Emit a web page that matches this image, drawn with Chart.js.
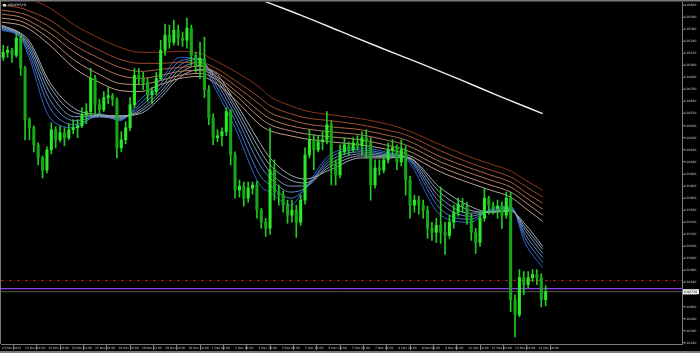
<!DOCTYPE html>
<html>
<head>
<meta charset="utf-8">
<script src="https://cdn.jsdelivr.net/npm/chart.js@4.4.1/dist/chart.umd.min.js"></script>
<style>
html,body{margin:0;padding:0;background:#000;}
canvas{display:block;background:#000;}
</style>
</head>
<body>
<canvas id="c" width="700" height="353"></canvas>
<script>
// ---- Data (USDCHF, H1, grouped 3 bars per candle) ----
const symbolTitle = 'USDCHF,H1';
const xTickIdx = [0,16,32,48,64,80,96,112,128,144,160,176,192,208,224,240,256,272,288,304,320,336,352,368];
const xLabels = ['23 Nov 2022','23 Nov 18:00','24 Nov 10:00','25 Nov 02:00','25 Nov 18:00','28 Nov 10:00','29 Nov 02:00','29 Nov 18:00','30 Nov 10:00','1 Dec 02:00','1 Dec 18:00','2 Dec 10:00','5 Dec 02:00','5 Dec 18:00','6 Dec 10:00','7 Dec 02:00','7 Dec 18:00','8 Dec 10:00','9 Dec 02:00','9 Dec 18:00','12 Dec 10:00','13 Dec 02:00','13 Dec 18:00','14 Dec 10:00'];
const yTicks = [0.9224,0.9236,0.9248,0.9260,0.9272,0.9284,0.9296,0.9308,0.9320,0.9332,0.9344,0.9356,0.9368,0.9380,0.9392,0.9404,0.9416,0.9428,0.9440,0.9452,0.9464,0.9476,0.9488,0.9500,0.9512,0.9524,0.9536,0.9548,0.9560];

const openP = [0.9508,0.9513,0.9515,0.9510,0.9527,0.9497,0.9446,0.9438,0.9421,0.9408,
 0.9396,0.9416,0.9436,0.9426,0.9433,0.9428,0.9436,0.9438,0.9440,0.9451,
 0.9454,0.9487,0.9461,0.9456,0.9468,0.9470,0.9466,0.9418,0.9426,0.9438,
 0.9461,0.9490,0.9487,0.9483,0.9471,0.9474,0.9487,0.9515,0.9530,0.9523,
 0.9535,0.9527,0.9525,0.9537,0.9510,0.9500,0.9507,0.9476,0.9448,0.9428,
 0.9430,0.9434,0.9454,0.9411,0.9376,0.9380,0.9368,0.9378,0.9381,0.9356,
 0.9344,0.9338,0.9396,0.9374,0.9371,0.9361,0.9351,0.9356,0.9344,0.9366,
 0.9411,0.9426,0.9416,0.9424,0.9426,0.9441,0.9401,0.9391,0.9414,0.9421,
 0.9416,0.9423,0.9420,0.9428,0.9424,0.9381,0.9398,0.9396,0.9406,0.9416,
 0.9418,0.9404,0.9416,0.9386,0.9361,0.9366,0.9361,0.9356,0.9338,0.9334,
 0.9341,0.9334,0.9331,0.9344,0.9354,0.9362,0.9360,0.9348,0.9334,0.9324,
 0.9348,0.9368,0.9361,0.9358,0.9360,0.9351,0.9368,0.9267,0.9252,0.9289,
 0.9282,0.9289,0.9292,0.9289,0.9267];
const highP = [0.9520,0.9519,0.9517,0.9532,0.9530,0.9499,0.9448,0.9440,0.9423,0.9410,
 0.9419,0.9443,0.9439,0.9440,0.9438,0.9442,0.9446,0.9446,0.9458,0.9462,
 0.9497,0.9490,0.9466,0.9474,0.9478,0.9472,0.9468,0.9434,0.9444,0.9468,
 0.9497,0.9497,0.9493,0.9487,0.9478,0.9493,0.9525,0.9541,0.9540,0.9545,
 0.9540,0.9533,0.9547,0.9540,0.9513,0.9523,0.9528,0.9480,0.9452,0.9436,
 0.9438,0.9458,0.9456,0.9414,0.9386,0.9384,0.9384,0.9384,0.9385,0.9358,
 0.9348,0.9438,0.9406,0.9381,0.9375,0.9366,0.9366,0.9361,0.9371,0.9418,
 0.9436,0.9431,0.9430,0.9434,0.9454,0.9445,0.9406,0.9421,0.9428,0.9424,
 0.9428,0.9430,0.9434,0.9436,0.9428,0.9406,0.9406,0.9411,0.9423,0.9426,
 0.9421,0.9426,0.9420,0.9390,0.9371,0.9370,0.9366,0.9360,0.9344,0.9348,
 0.9379,0.9344,0.9351,0.9361,0.9368,0.9368,0.9364,0.9352,0.9338,0.9354,
 0.9378,0.9370,0.9364,0.9366,0.9364,0.9374,0.9374,0.9272,0.9297,0.9295,
 0.9295,0.9297,0.9297,0.9293,0.9281];
const lowP = [0.9505,0.9508,0.9503,0.9508,0.9490,0.9426,0.9426,0.9414,0.9401,0.9388,
 0.9393,0.9412,0.9418,0.9424,0.9420,0.9426,0.9432,0.9428,0.9438,0.9442,
 0.9450,0.9451,0.9450,0.9454,0.9462,0.9460,0.9408,0.9414,0.9422,0.9435,
 0.9458,0.9481,0.9476,0.9464,0.9462,0.9471,0.9485,0.9510,0.9517,0.9520,
 0.9520,0.9519,0.9517,0.9500,0.9493,0.9487,0.9468,0.9441,0.9421,0.9424,
 0.9420,0.9430,0.9401,0.9368,0.9369,0.9360,0.9364,0.9372,0.9348,0.9338,
 0.9330,0.9332,0.9366,0.9361,0.9354,0.9343,0.9344,0.9329,0.9341,0.9362,
 0.9408,0.9396,0.9414,0.9416,0.9422,0.9381,0.9381,0.9388,0.9411,0.9411,
 0.9414,0.9416,0.9411,0.9408,0.9366,0.9378,0.9391,0.9393,0.9403,0.9410,
 0.9396,0.9400,0.9371,0.9348,0.9354,0.9352,0.9348,0.9328,0.9326,0.9324,
 0.9323,0.9312,0.9328,0.9338,0.9350,0.9354,0.9342,0.9326,0.9313,0.9320,
 0.9345,0.9352,0.9352,0.9348,0.9338,0.9348,0.9255,0.9230,0.9250,0.9272,
 0.9279,0.9285,0.9282,0.9260,0.9261];
const closeP = [0.9513,0.9515,0.9510,0.9527,0.9497,0.9446,0.9438,0.9421,0.9408,0.9396,
 0.9416,0.9436,0.9426,0.9433,0.9428,0.9436,0.9438,0.9440,0.9451,0.9454,
 0.9487,0.9461,0.9456,0.9468,0.9470,0.9466,0.9418,0.9426,0.9438,0.9461,
 0.9490,0.9487,0.9483,0.9471,0.9474,0.9487,0.9515,0.9530,0.9523,0.9535,
 0.9527,0.9525,0.9537,0.9510,0.9500,0.9507,0.9476,0.9448,0.9428,0.9430,
 0.9434,0.9454,0.9411,0.9376,0.9380,0.9368,0.9378,0.9381,0.9356,0.9344,
 0.9338,0.9396,0.9374,0.9371,0.9361,0.9351,0.9356,0.9344,0.9366,0.9411,
 0.9426,0.9416,0.9424,0.9426,0.9441,0.9401,0.9391,0.9414,0.9421,0.9416,
 0.9423,0.9420,0.9428,0.9424,0.9381,0.9398,0.9396,0.9406,0.9416,0.9418,
 0.9404,0.9416,0.9386,0.9361,0.9366,0.9361,0.9356,0.9338,0.9334,0.9341,
 0.9334,0.9331,0.9344,0.9354,0.9362,0.9360,0.9348,0.9334,0.9324,0.9348,
 0.9368,0.9361,0.9358,0.9360,0.9351,0.9368,0.9267,0.9252,0.9289,0.9282,
 0.9289,0.9292,0.9289,0.9267,0.9275];

// moving-average ribbon (read at these bar indices)
const maIdx = [0,13,19,33,50,67,81,95,109,122,136,146,160,177,184,198,208,225,246,266,277,301,321,335,349,359,371];
const maR6 = [0.9573,0.9569,0.9566,0.9557,0.9540,0.9527,0.9518,0.9513,0.9513,0.9514,0.9512,0.9505,0.9494,0.9478,0.9469,0.9460,0.9455,0.9451,0.9447,0.9441,0.9436,0.9421,0.9409,0.9402,0.9395,0.9386,0.9376];
const maR5 = [0.9560,0.9557,0.9554,0.9545,0.9528,0.9515,0.9506,0.9502,0.9502,0.9503,0.9503,0.9498,0.9485,0.9468,0.9460,0.9452,0.9448,0.9445,0.9441,0.9435,0.9431,0.9415,0.9403,0.9396,0.9389,0.9380,0.9369];
const maR4 = [0.9555,0.9552,0.9549,0.9538,0.9520,0.9507,0.9498,0.9494,0.9496,0.9498,0.9499,0.9494,0.9480,0.9461,0.9453,0.9446,0.9442,0.9439,0.9436,0.9430,0.9426,0.9409,0.9398,0.9391,0.9384,0.9374,0.9363];
const maR3 = [0.9551,0.9548,0.9544,0.9532,0.9513,0.9499,0.9490,0.9487,0.9490,0.9494,0.9495,0.9490,0.9475,0.9454,0.9447,0.9440,0.9437,0.9434,0.9431,0.9425,0.9421,0.9404,0.9393,0.9386,0.9379,0.9369,0.9357];
const maR2 = [0.9547,0.9544,0.9540,0.9526,0.9505,0.9491,0.9482,0.9481,0.9485,0.9490,0.9492,0.9487,0.9471,0.9448,0.9441,0.9435,0.9432,0.9429,0.9426,0.9420,0.9416,0.9399,0.9388,0.9381,0.9374,0.9364,0.9351];
const maR1 = [0.9543,0.9540,0.9536,0.9520,0.9497,0.9483,0.9475,0.9474,0.9481,0.9487,0.9489,0.9483,0.9466,0.9441,0.9435,0.9430,0.9427,0.9424,0.9421,0.9416,0.9412,0.9394,0.9383,0.9376,0.9369,0.9358,0.9345];
const maB6 = [0.9540,0.9532,0.9524,0.9483,0.9457,0.9451,0.9450,0.9452,0.9468,0.9488,0.9496,0.9493,0.9464,0.9423,0.9408,0.9391,0.9387,0.9396,0.9408,0.9408,0.9409,0.9378,0.9360,0.9354,0.9355,0.9342,0.9320];
const maB5 = [0.9539,0.9531,0.9521,0.9479,0.9453,0.9450,0.9449,0.9454,0.9471,0.9492,0.9500,0.9491,0.9460,0.9416,0.9401,0.9386,0.9383,0.9399,0.9410,0.9409,0.9409,0.9373,0.9356,0.9354,0.9356,0.9339,0.9317];
const maB4 = [0.9538,0.9530,0.9518,0.9473,0.9449,0.9449,0.9448,0.9456,0.9474,0.9496,0.9503,0.9489,0.9456,0.9409,0.9394,0.9380,0.9380,0.9402,0.9412,0.9410,0.9409,0.9368,0.9353,0.9354,0.9357,0.9336,0.9313];
const maB3 = [0.9537,0.9529,0.9515,0.9466,0.9445,0.9449,0.9447,0.9459,0.9478,0.9500,0.9506,0.9486,0.9451,0.9401,0.9388,0.9374,0.9378,0.9405,0.9414,0.9411,0.9409,0.9363,0.9350,0.9355,0.9358,0.9332,0.9309];
const maB2 = [0.9536,0.9528,0.9511,0.9458,0.9441,0.9450,0.9446,0.9462,0.9482,0.9504,0.9507,0.9482,0.9445,0.9391,0.9381,0.9368,0.9377,0.9408,0.9416,0.9412,0.9409,0.9357,0.9347,0.9356,0.9359,0.9328,0.9304];
const maB1 = [0.9535,0.9527,0.9507,0.9448,0.9438,0.9452,0.9445,0.9466,0.9485,0.9508,0.9505,0.9478,0.9438,0.9381,0.9374,0.9361,0.9378,0.9411,0.9418,0.9413,0.9408,0.9351,0.9344,0.9357,0.9360,0.9323,0.9299];
const whiteIdx = [168,178,205,232,259,287,314,342,371];
const whiteVals = [0.9571,0.9565,0.9550,0.9534,0.9518,0.9502,0.9486,0.9469,0.9452];

const levelRed = 0.9286;
const linePurple = 0.9278;
const bidPrice = 0.9275;

// ---- build datasets ----
const candleX = closeP.map((_, i) => 3 * i + 1);
const wickData = candleX.map((x, i) => ({x, y: [lowP[i], highP[i]]}));
const bodyData = candleX.map((x, i) => ({x, y: [openP[i], closeP[i]]}));
const isBull = closeP.map((c, i) => c >= openP[i]);

function maSet(vals, color, order) {
  return {type: 'line', data: maIdx.map((x, i) => ({x, y: vals[i]})), borderColor: color,
    borderWidth: 1, pointRadius: 0, cubicInterpolationMode: 'monotone', order};
}
function hLine(v, color, dash, w) {
  return {type: 'line', data: [{x: -0.5, y: v}, {x: 466.5, y: v}], borderColor: color,
    borderWidth: w, borderDash: dash, pointRadius: 0, order: 20};
}

const datasets = [
  {type: 'bar', data: bodyData, grouped: false, barThickness: 2.4, order: 0,
   backgroundColor: bodyData.map((_, i) => isBull[i] ? '#2BE82B' : '#17A817'), borderWidth: 0},
  {type: 'bar', data: wickData, grouped: false, barThickness: 1, order: 1,
   backgroundColor: '#22CC22', borderWidth: 0},
  {type: 'line', data: whiteIdx.map((x, i) => ({x, y: whiteVals[i]})), borderColor: '#EDEDED',
   borderWidth: 1.4, pointRadius: 0, cubicInterpolationMode: 'monotone', order: 3},
  maSet(maR6, '#8C3418', 4), maSet(maR5, '#A04A2C', 4), maSet(maR4, '#AE6244', 4),
  maSet(maR3, '#B6785C', 4), maSet(maR2, '#BC8C74', 4), maSet(maR1, '#C09E8C', 4),
  maSet(maB6, '#A8AEB8', 5), maSet(maB5, '#90A2BA', 5), maSet(maB4, '#7896C0', 5),
  maSet(maB3, '#5E88C4', 5), maSet(maB2, '#4678C8', 5), maSet(maB1, '#2E66CC', 5),
  hLine(levelRed, '#B02020', [3, 2, 1, 2], 1),
  hLine(linePurple, '#8A3CF0', [], 1.2),
  hLine(bidPrice, '#5A5A5A', [], 1)
];

const framePlugin = {
  id: 'frame',
  beforeDraw(chart) {
    const c = chart.ctx;
    c.save();
    c.fillStyle = '#000';
    c.fillRect(0, 0, chart.width, chart.height);
    c.restore();
  },
  afterDraw(chart) {
    const c = chart.ctx, a = chart.chartArea, ys = chart.scales.y;
    c.save();
    c.fillStyle = '#7A7A7A';
    c.fillRect(0, 0, chart.width, 1.5);
    c.fillRect(0, 0, 1, a.bottom);
    c.fillRect(0, chart.height - 2, chart.width, 2);
    // title
    c.fillStyle = '#D8D8D8';
    c.fillRect(3, 4, 3, 2.5);
    c.font = '3.2px "DejaVu Sans"';
    c.textBaseline = 'middle';
    c.fillStyle = '#E6E6E6';
    c.fillText(symbolTitle, 8, 5.5);
    // bid label
    const yp = ys.getPixelForValue(bidPrice);
    c.fillStyle = '#F0F0F0';
    c.fillRect(a.right + 1, yp - 2.5, 16, 5);
    c.fillStyle = '#000';
    c.fillText(bidPrice.toFixed(5), a.right + 2, yp + 0.2);
    c.restore();
  }
};

Chart.defaults.font.family = 'DejaVu Sans';
new Chart(document.getElementById('c'), {
  type: 'bar',
  data: {datasets},
  options: {
    responsive: false,
    animation: false,
    events: [],
    layout: {padding: {top: 2, left: 1, right: 0, bottom: 0}},
    plugins: {legend: {display: false}, tooltip: {enabled: false}},
    scales: {
      x: {
        type: 'linear', min: -0.5, max: 466.5, offset: false,
        grid: {display: true, drawOnChartArea: false, drawTicks: true, tickLength: 6, color: '#7A7A7A', lineWidth: 1},
        border: {display: true, color: '#7A7A7A'},
        ticks: {autoSkip: false, maxRotation: 0, minRotation: 0, align: 'start', padding: -4,
          color: '#C8C8C8', font: {size: 3, family: 'DejaVu Sans'},
          callback: (v, i) => xLabels[i]},
        afterBuildTicks: s => { s.ticks = xTickIdx.map(v => ({value: v})); },
        afterFit: s => { s.height = 9; }
      },
      y: {
        position: 'right', min: 0.9223, max: 0.9563,
        grid: {display: true, drawOnChartArea: false, drawTicks: true, tickLength: 2, color: '#7A7A7A'},
        border: {display: true, color: '#7A7A7A'},
        ticks: {autoSkip: false, padding: 0, color: '#C8C8C8', font: {size: 3, family: 'DejaVu Sans'},
          callback: v => Number(v).toFixed(5)},
        afterBuildTicks: s => { s.ticks = yTicks.map(v => ({value: v})); },
        afterFit: s => { s.width = 18; }
      }
    }
  },
  plugins: [framePlugin]
});
</script>
</body>
</html>
